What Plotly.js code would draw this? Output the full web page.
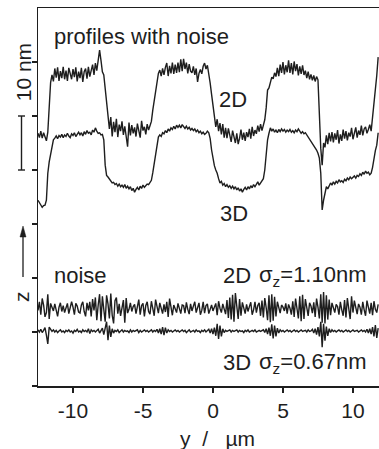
<!DOCTYPE html>
<html>
<head>
<meta charset="utf-8">
<script src="https://cdn.plot.ly/plotly-3.0.1.min.js"></script>
<style>html,body{margin:0;padding:0;background:#fff;}#chart{width:379px;height:449px;}</style>
</head>
<body>
<div id="chart"></div>
<script>
// lateral position y (µm)
const yPos = [
-12.5,-12.4,-12.3,-12.2,-12.1,-12.0,-11.9,-11.8,-11.7,-11.6,
-11.5,-11.4,-11.3,-11.2,-11.1,-11.0,-10.9,-10.8,-10.7,-10.6,
-10.5,-10.4,-10.3,-10.2,-10.1,-10.0,-9.9,-9.8,-9.7,-9.6,
-9.5,-9.4,-9.3,-9.2,-9.1,-9.0,-8.9,-8.8,-8.7,-8.6,
-8.5,-8.4,-8.3,-8.2,-8.1,-8.0,-7.9,-7.8,-7.7,-7.6,
-7.5,-7.4,-7.3,-7.2,-7.1,-7.0,-6.9,-6.8,-6.7,-6.6,
-6.5,-6.4,-6.3,-6.2,-6.1,-6.0,-5.9,-5.8,-5.7,-5.6,
-5.5,-5.4,-5.3,-5.2,-5.1,-5.0,-4.9,-4.8,-4.7,-4.6,
-4.5,-4.4,-4.3,-4.2,-4.1,-4.0,-3.9,-3.8,-3.7,-3.6,
-3.5,-3.4,-3.3,-3.2,-3.1,-3.0,-2.9,-2.8,-2.7,-2.6,
-2.5,-2.4,-2.3,-2.2,-2.1,-2.0,-1.9,-1.8,-1.7,-1.6,
-1.5,-1.4,-1.3,-1.2,-1.1,-1.0,-0.9,-0.8,-0.7,-0.6,
-0.5,-0.4,-0.3,-0.2,-0.1,0.0,0.1,0.2,0.3,0.4,
0.5,0.6,0.7,0.8,0.9,1.0,1.1,1.2,1.3,1.4,
1.5,1.6,1.7,1.8,1.9,2.0,2.1,2.2,2.3,2.4,
2.5,2.6,2.7,2.8,2.9,3.0,3.1,3.2,3.3,3.4,
3.5,3.6,3.7,3.8,3.9,4.0,4.1,4.2,4.3,4.4,
4.5,4.6,4.7,4.8,4.9,5.0,5.1,5.2,5.3,5.4,
5.5,5.6,5.7,5.8,5.9,6.0,6.1,6.2,6.3,6.4,
6.5,6.6,6.7,6.8,6.9,7.0,7.1,7.2,7.3,7.4,
7.5,7.6,7.7,7.8,7.9,8.0,8.1,8.2,8.3,8.4,
8.5,8.6,8.7,8.8,8.9,9.0,9.1,9.2,9.3,9.4,
9.5,9.6,9.7,9.8,9.9,10.0,10.1,10.2,10.3,10.4,
10.5,10.6,10.7,10.8,10.9,11.0,11.1,11.2,11.3,11.4,
11.5,11.6,11.7,11.8];

// 2D profile with noise (nm, offset for display)
const profile2D = [
46.8,46.0,47.2,45.9,46.9,46.3,45.4,47.0,52.0,56.2,
57.6,56.4,58.8,57.1,59.0,56.5,58.3,57.0,59.1,56.8,
58.4,56.5,58.9,57.9,56.8,58.7,57.2,59.0,56.4,58.2,
57.0,58.9,56.3,58.2,58.8,56.9,59.1,57.3,58.4,59.5,
57.6,59.8,58.4,60.1,62.2,60.3,58.2,57.6,55.0,52.0,
49.2,47.6,49.8,46.2,48.9,47.0,49.5,46.1,48.4,47.2,
49.0,46.5,48.1,45.7,44.3,48.8,46.4,48.3,46.8,47.9,
46.2,48.6,47.0,46.0,49.1,47.3,48.0,46.6,48.5,47.4,
48.2,49.0,51.1,53.0,54.8,56.6,57.9,58.5,57.4,58.8,
57.6,59.0,59.8,57.4,59.3,57.9,59.9,57.8,59.5,58.0,
59.9,58.1,60.5,58.3,60.6,58.7,59.9,57.9,59.6,58.3,
58.0,59.2,57.6,58.8,56.3,57.9,58.6,57.8,59.2,59.8,
58.7,59.4,57.9,56.1,54.0,51.7,49.8,48.0,49.4,47.2,
48.7,46.6,48.5,46.0,47.8,45.9,47.7,46.3,45.2,47.3,
46.0,45.0,46.8,44.8,45.9,47.5,45.6,46.9,45.4,47.0,
46.1,47.6,45.8,48.0,46.3,47.4,46.7,48.2,47.1,48.5,
47.3,48.6,49.3,51.5,54.8,55.2,56.1,57.2,56.9,58.0,
57.3,58.9,57.4,59.5,58.0,60.0,57.7,59.4,58.1,60.3,
58.0,59.8,57.7,60.1,58.3,59.6,57.5,59.2,57.8,59.4,
57.6,58.4,57.0,58.2,56.8,57.7,56.6,57.5,56.4,57.3,
56.7,50.0,44.0,40.9,45.0,44.2,46.4,44.8,46.9,45.3,
47.0,45.1,46.8,45.6,47.4,44.9,46.6,45.4,47.5,45.8,
47.2,45.5,46.9,46.2,47.8,45.7,46.6,47.9,46.0,47.3,
46.5,48.2,46.4,47.6,48.0,46.8,47.5,48.4,47.2,49.6,
52.0,54.8,57.5,60.9];

// 3D profile with noise (nm, offset for display)
const profile3D = [
34.4,34.0,33.6,33.1,33.4,33.5,34.4,39.4,41.5,43.1,
44.6,45.6,45.9,46.3,45.8,46.4,46.1,46.6,46.0,46.5,
46.2,46.8,46.3,46.0,46.7,46.4,46.9,46.2,46.6,47.0,
46.5,46.9,46.3,47.1,46.6,47.3,46.8,47.0,46.5,47.4,
47.0,47.8,47.2,46.8,46.9,46.5,46.6,45.6,40.9,39.0,
38.7,38.3,38.0,37.6,37.7,37.3,37.5,37.0,37.4,36.9,
37.2,36.8,37.3,36.6,37.0,36.5,36.9,36.2,36.6,35.9,
36.4,36.8,36.3,37.0,36.6,37.2,36.8,37.1,37.4,37.3,
37.8,38.1,39.5,41.3,43.1,44.6,46.1,46.5,46.2,46.9,
46.7,47.3,46.9,47.6,47.2,47.8,47.5,48.1,47.6,48.3,
47.9,48.3,47.8,48.4,48.0,47.7,48.1,47.6,47.9,47.4,
47.7,47.3,47.6,47.1,47.4,46.9,47.2,46.7,47.0,46.6,
46.8,47.2,46.9,45.8,43.7,41.9,40.8,40.0,39.4,38.4,
37.6,37.9,37.2,37.5,36.9,37.3,36.8,37.1,36.6,37.0,
36.5,36.9,36.3,36.7,36.1,36.5,35.9,36.4,36.8,36.3,
36.9,36.5,37.1,36.7,37.3,36.9,37.4,37.8,37.2,37.6,
37.9,38.4,40.0,42.8,45.6,46.8,47.8,47.2,47.6,47.0,
47.4,46.9,47.5,47.1,47.6,47.2,47.5,47.0,47.4,47.1,
47.5,47.0,47.3,46.9,47.4,47.1,47.6,47.2,46.8,47.1,
46.7,46.9,46.5,46.2,45.8,45.5,45.0,44.6,44.2,43.7,
43.1,42.2,39.4,32.6,34.4,35.8,36.9,36.5,37.2,37.6,
37.2,37.8,37.4,37.9,37.6,38.2,37.8,38.0,37.7,38.3,
38.0,38.5,38.2,38.7,38.4,38.6,38.9,38.5,39.0,38.8,
39.3,39.0,39.6,39.2,39.8,39.4,39.6,39.1,39.4,40.5,
42.4,43.6,44.6,46.9];

// 2D noise (nm, offset for display)
const noise2D = [
14.0,15.6,13.2,16.2,15.0,12.8,13.6,17.0,12.4,15.3,
14.6,13.9,15.2,14.1,12.9,14.6,15.4,13.8,14.9,13.6,
14.7,15.3,13.4,14.3,15.6,14.6,13.2,15.3,14.8,13.7,
13.5,15.0,15.6,13.8,12.9,15.4,14.0,15.6,12.9,16.1,
14.0,16.4,12.2,15.0,17.0,12.0,16.6,14.2,11.9,16.8,
15.2,12.5,17.1,13.1,11.6,15.8,16.4,13.4,15.2,13.0,
14.6,15.9,11.7,16.3,13.5,14.2,15.4,13.8,14.7,15.1,
13.4,14.5,16.0,13.2,14.9,15.3,12.9,14.9,15.6,13.8,
13.3,15.7,14.2,13.0,16.0,14.8,13.5,15.4,14.6,13.4,
15.1,13.7,15.6,12.8,16.2,14.6,13.1,15.0,14.1,13.6,
15.3,14.4,13.4,15.0,14.9,13.5,15.5,14.2,13.3,15.2,
13.9,14.8,15.6,13.6,14.7,15.4,13.2,14.0,15.6,13.5,
14.9,15.2,13.4,14.1,15.0,13.9,14.6,15.3,13.1,15.7,
14.4,13.6,15.2,14.1,13.3,15.9,12.6,16.4,12.3,16.9,
11.9,17.2,14.8,12.4,16.1,13.0,15.5,14.6,13.4,15.1,
13.8,14.7,15.5,13.2,14.1,15.6,13.6,14.9,15.4,13.0,
15.8,12.7,16.3,14.5,12.2,16.8,11.8,17.0,12.1,16.5,
12.9,15.6,14.2,13.5,15.0,14.6,13.9,15.3,13.4,15.1,
14.4,13.2,15.7,12.8,16.2,14.0,12.5,16.6,12.0,16.9,
12.4,16.1,14.3,13.0,15.4,14.8,13.5,15.5,12.8,16.2,
14.6,12.5,17.0,11.7,17.4,11.6,16.8,12.3,16.0,13.1,
15.4,14.3,13.6,15.1,14.7,13.2,15.6,14.1,13.0,15.9,
12.7,16.3,14.2,12.4,16.6,13.6,15.8,14.4,13.3,15.2,
14.6,13.2,15.6,14.1,13.0,15.8,14.5,13.4,15.4,13.1,
15.7,14.2,13.6,15.1];

// 3D noise (nm, offset for display)
const noise3D = [
10.4,10.0,10.5,9.9,10.3,10.8,9.4,7.8,10.9,10.6,
10.1,10.4,10.0,10.3,9.9,10.2,10.4,10.0,10.2,9.9,
10.3,10.1,10.4,10.0,10.2,9.8,10.3,10.1,10.5,10.0,
10.2,9.9,10.4,10.1,10.3,10.0,10.6,9.7,10.4,10.1,
10.3,10.0,10.2,10.5,9.8,10.4,10.7,9.5,10.9,11.9,
8.5,11.2,9.1,10.6,9.8,10.3,10.1,10.4,9.9,10.2,
10.4,10.0,10.3,10.1,10.2,9.9,10.4,10.0,10.3,10.1,
10.2,10.4,9.9,10.3,10.0,10.2,10.4,10.1,10.3,10.0,
10.2,10.4,10.0,10.3,10.1,10.5,9.8,10.6,9.6,10.9,
9.4,10.8,9.8,10.4,10.1,10.3,10.0,10.2,10.4,10.1,
10.3,10.0,10.2,10.4,10.1,10.3,9.9,10.2,10.4,10.0,
10.2,10.3,10.0,10.4,10.1,10.2,9.9,10.3,10.1,10.4,
10.0,10.2,10.5,9.8,10.6,9.6,10.8,9.3,11.5,8.7,
11.2,9.2,10.6,9.9,10.3,10.1,10.2,10.4,10.0,10.3,
10.1,10.2,10.4,10.0,10.3,10.1,10.2,9.9,10.3,10.1,
10.4,10.0,10.2,10.3,10.1,10.4,10.0,10.2,10.3,10.1,
10.2,10.4,9.9,10.6,9.6,10.8,9.3,11.4,8.8,11.2,
9.2,10.7,9.8,10.4,10.1,10.3,10.0,10.2,10.4,10.1,
10.3,10.0,10.2,10.4,10.1,10.3,10.0,10.2,10.4,10.1,
10.2,10.3,10.0,10.4,10.1,10.2,10.5,9.8,10.6,9.5,
10.9,9.2,11.9,7.2,11.5,8.4,11.0,9.3,10.6,9.9,
10.4,10.1,10.3,10.0,10.2,10.4,10.1,10.3,10.0,10.2,
10.4,10.1,10.3,10.0,10.2,10.4,10.1,10.2,10.3,10.0,
10.2,10.4,10.1,10.3,10.0,10.5,9.8,10.6,9.6,10.9,
9.2,11.3,8.9,10.7];

const xTickVals = [-10, -5, 0, 5, 10];
const xTickText = ['-10', '-5', '0', '5', '10'];
const yTickVals = [0, 10, 20, 30, 40, 50, 60];

const INK = '#1e1e1e';
const FONT = '"Liberation Sans", Arial, Helvetica, sans-serif';
const lineStyle = {color: INK, width: 1.4};

const traces = [profile2D, profile3D, noise2D, noise3D].map(v => ({
  x: yPos, y: v, type: 'scatter', mode: 'lines', line: lineStyle,
  hoverinfo: 'skip', showlegend: false
}));

const plotW = 341;
function px(p) { return (p - 38) / plotW; }   // paper x from pixel column
function py(p) { return (386 - p) / 5.4; }     // y-axis value from pixel row

const annotations = [
  {text: 'profiles with noise', x: -11.5, y: 64.8, xref: 'x', yref: 'y', xanchor: 'left', yanchor: 'middle', showarrow: false, font: {size: 22}},
  {text: '2D', x: 1.43, y: 53.1, xref: 'x', yref: 'y', xanchor: 'center', yanchor: 'middle', showarrow: false, font: {size: 22}},
  {text: '3D', x: 1.5, y: 32.0, xref: 'x', yref: 'y', xanchor: 'center', yanchor: 'middle', showarrow: false, font: {size: 22}},
  {text: 'noise', x: -11.5, y: 20.4, xref: 'x', yref: 'y', xanchor: 'left', yanchor: 'middle', showarrow: false, font: {size: 22}},
  {text: '2D', x: 0.57, y: 20.4, xref: 'x', yref: 'y', xanchor: 'left', yanchor: 'middle', showarrow: false, font: {size: 22}},
  {text: 'σ<sub>z</sub>=1.10nm', x: 11.14, y: 20.4, xref: 'x', yref: 'y', xanchor: 'right', yanchor: 'middle', showarrow: false, font: {size: 22}},
  {text: '3D', x: 0.57, y: 4.3, xref: 'x', yref: 'y', xanchor: 'left', yanchor: 'middle', showarrow: false, font: {size: 22}},
  {text: 'σ<sub>z</sub>=0.67nm', x: 11.14, y: 4.3, xref: 'x', yref: 'y', xanchor: 'right', yanchor: 'middle', showarrow: false, font: {size: 22}},
  {text: '10\u00A0nm', x: px(23), y: 58.1, xref: 'paper', yref: 'y', xanchor: 'center', yanchor: 'middle', textangle: -90, showarrow: false, font: {size: 21}},
  {text: 'z', x: px(21), y: py(297), xref: 'paper', yref: 'y', xanchor: 'center', yanchor: 'middle', textangle: -90, showarrow: false, font: {size: 21}},
  {text: 'y\u00A0\u00A0/\u00A0\u00A0\u00A0µm', x: -2.5, y: (386 - 438) / 378, xref: 'x', yref: 'paper', xanchor: 'left', yanchor: 'middle', showarrow: false, font: {size: 21}}
];

const shapes = [
  // 10 nm scale bar
  {type: 'line', xref: 'paper', yref: 'y', x0: px(21.5), x1: px(21.5), y0: 40, y1: 50, line: {color: INK, width: 1.4}},
  {type: 'line', xref: 'paper', yref: 'y', x0: px(18), x1: px(25), y0: 40, y1: 40, line: {color: INK, width: 1.4}},
  {type: 'line', xref: 'paper', yref: 'y', x0: px(18), x1: px(25), y0: 50, y1: 50, line: {color: INK, width: 1.4}},
  // z arrow
  {type: 'line', xref: 'paper', yref: 'y', x0: px(23), x1: px(23), y0: py(277), y1: py(234), line: {color: INK, width: 1.3}},
  {type: 'path', xref: 'paper', yref: 'y',
   path: 'M ' + px(23) + ',' + py(226) + ' L ' + px(20) + ',' + py(237) + ' L ' + px(26) + ',' + py(237) + ' Z',
   fillcolor: INK, line: {color: INK, width: 0.5}}
];

const layout = {
  width: 379, height: 449,
  margin: {l: 38, r: 0, t: 8, b: 63, pad: 0},
  paper_bgcolor: '#fff', plot_bgcolor: '#fff',
  font: {family: FONT, size: 21, color: INK},
  xaxis: {
    range: [-12.5, 11.86], tickvals: xTickVals, ticktext: xTickText,
    ticks: 'outside', ticklen: 5, tickwidth: 1.3, tickcolor: INK,
    showline: true, linecolor: INK, linewidth: 1.5, mirror: true,
    showgrid: false, zeroline: false, fixedrange: true,
    tickfont: {size: 21, family: FONT, color: INK}
  },
  yaxis: {
    range: [0, 70], tickvals: yTickVals, showticklabels: false,
    ticks: 'outside', ticklen: 5, tickwidth: 1.3, tickcolor: INK,
    showline: true, linecolor: INK, linewidth: 1.5,
    showgrid: false, zeroline: false, fixedrange: true
  },
  annotations: annotations,
  shapes: shapes,
  showlegend: false
};

Plotly.newPlot('chart', traces, layout, {displayModeBar: false, staticPlot: true});
</script>
</body>
</html>
